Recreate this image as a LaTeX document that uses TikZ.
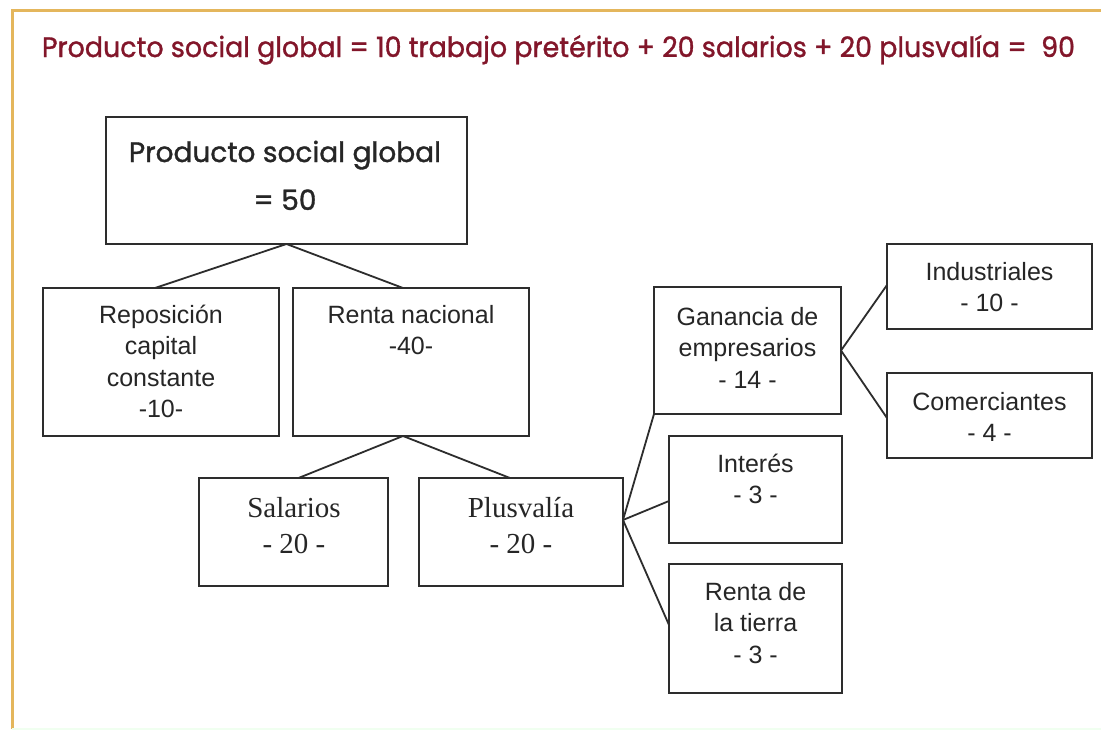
\documentclass[tikz,border=0pt]{standalone}
\usepackage{fontspec}
\usepackage{graphicx}
\setmainfont{Liberation Sans}
\newfontfamily\serifF{Liberation Serif}
\newfontfamily\comicF{Poppins}[FakeBold=1.2]
\usetikzlibrary{calc}
\definecolor{frameC}{RGB}{228,182,92}
\definecolor{titleC}{RGB}{130,22,42}
\definecolor{lineC}{RGB}{45,45,45}
\newcommand\tb[1]{\begin{tabular}[t]{@{}c@{}}#1\end{tabular}}
\begin{document}
\begin{tikzpicture}[x=1pt,y=-1pt,
  bx/.style={draw=lineC, line width=1.8pt, inner sep=0pt, outer sep=0pt, fill=white},
  txt/.style={inner sep=0pt, outer sep=0pt, anchor=base, text=black!85},
  arial/.style={font=\fontsize{25}{31.5}\selectfont},
  times/.style={font=\serifF\fontsize{29}{36}\selectfont},
  link/.style={draw=lineC, line width=1.8pt}]
\useasboundingbox (0,0) rectangle (1101,731);
\fill[white] (0,0) rectangle (1101,731);
\draw[frameC, line width=3pt] (1101,10) -- (12,10) -- (12,729);
\draw[green!6!white, line width=2pt] (12,729) -- (1101,729);

% title
\node[txt, text=titleC, font=\comicF\fontsize{28}{34}\selectfont] (title) at (558.5,57)
  {\resizebox{1033pt}{\height}{Producto social global = 10 trabajo pretérito + 20 salarios + 20 plusvalía =\ \ 90}};

% boxes
\node[bx, minimum width=361pt, minimum height=127pt] (psg) at (286.5,180.5) {};
\node[bx, minimum width=236pt, minimum height=148pt] (rep) at (161,362) {};
\node[bx, minimum width=236pt, minimum height=148pt] (ren) at (411,362) {};
\node[bx, minimum width=189pt, minimum height=108pt] (sal) at (293.5,532) {};
\node[bx, minimum width=204pt, minimum height=108pt] (plu) at (521,532) {};
\node[bx, minimum width=187pt, minimum height=127pt] (gan) at (747.5,350.5) {};
\node[bx, minimum width=173pt, minimum height=107pt] (int) at (755.5,489.5) {};
\node[bx, minimum width=173pt, minimum height=129pt] (tie) at (755.5,628.5) {};
\node[bx, minimum width=205pt, minimum height=85pt] (ind) at (989.5,286.5) {};
\node[bx, minimum width=205pt, minimum height=85pt] (com) at (989.5,415.5) {};

% texts
\node[txt, font=\comicF\fontsize{28}{48}\selectfont] (t-psg) at (285,162)
  {\resizebox{312pt}{\height}{\tb{Producto social global\\= 50}}};
\node[txt, arial] (t-rep) at (161,323) {\tb{Reposición\\capital\\constante\\-10-}};
\node[txt, arial] (t-ren) at (411,323) {\tb{Renta nacional\\-40-}};
\node[txt, times] (t-sal) at (294,517) {\tb{Salarios\\- 20 -}};
\node[txt, times] (t-plu) at (521,517) {\tb{Plusvalía\\- 20 -}};
\node[txt, arial] (t-gan) at (747.5,325) {\tb{Ganancia de\\empresarios\\- 14 -}};
\node[txt, arial] (t-int) at (755.5,472) {\tb{Interés\\- 3 -}};
\node[txt, arial] (t-tie) at (755.5,600) {\tb{Renta de\\la tierra\\- 3 -}};
\node[txt, arial] (t-ind) at (989.5,280) {\tb{Industriales\\- 10 -}};
\node[txt, arial] (t-com) at (989.5,410) {\tb{Comerciantes\\- 4 -}};

% connectors
\draw[link] (psg.south) -- ([xshift=-6pt]rep.north);
\draw[link] (psg.south) -- ([xshift=-8pt]ren.north);
\draw[link] ([xshift=-8pt]ren.south) -- ([xshift=5pt]sal.north);
\draw[link] ([xshift=-8pt]ren.south) -- ([xshift=-11pt]plu.north);
\coordinate (pr) at ([yshift=12pt]plu.east);
\draw[link] (pr) -- (gan.south west);
\draw[link] (pr) -- ([yshift=-11.5pt]int.west);
\draw[link] (pr) -- ([yshift=3.5pt]tie.west);
\draw[link] (gan.east) -- ([yshift=1.5pt]ind.west);
\draw[link] (gan.east) -- ([yshift=-2.5pt]com.west);
\end{tikzpicture}
\end{document}
